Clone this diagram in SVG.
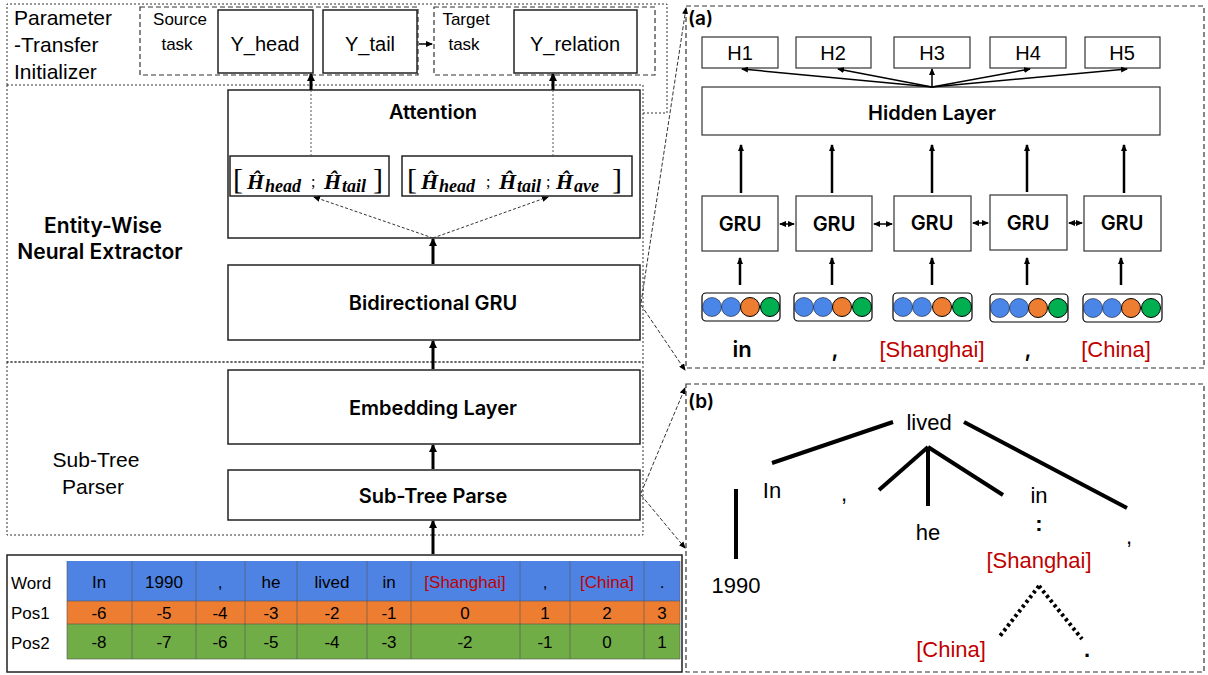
<svg xmlns="http://www.w3.org/2000/svg" width="1208" height="675" viewBox="0 0 1208 675">
<defs>
<marker id="thick" markerWidth="8" markerHeight="8" refX="7" refY="4" orient="auto" markerUnits="userSpaceOnUse"><path d="M0,0 L8,4 L0,8 Z" fill="#000"/></marker>
<marker id="small" markerWidth="7" markerHeight="6" refX="6" refY="3" orient="auto" markerUnits="userSpaceOnUse"><path d="M0,0 L7,3 L0,6 Z" fill="#000"/></marker>
<marker id="smallS" markerWidth="7" markerHeight="6" refX="1" refY="3" orient="auto" markerUnits="userSpaceOnUse"><path d="M7,0 L0,3 L7,6 Z" fill="#000"/></marker>
</defs>
<style>
text{font-family:"Liberation Sans","DejaVu Sans",sans-serif;fill:#000}
.box{fill:#fff;stroke:#222;stroke-width:1.5}
.rbox{fill:#fff;stroke:#333;stroke-width:1.2}
.region{fill:none;stroke:#333;stroke-width:1;stroke-dasharray:2 2}
.dash{fill:none;stroke:#333;stroke-width:1.2;stroke-dasharray:5 3}
.lbl{font-size:20px;text-anchor:middle}
.sb{font-family:Inter,"Liberation Sans",sans-serif;font-weight:600}
.side{font-size:21px}
.m{font-family:"Liberation Serif","DejaVu Serif",serif;font-style:italic;font-weight:bold}
.tw{font-size:17px;text-anchor:middle}
.red{fill:#c00000}
.arr{stroke:#000;stroke-width:3;marker-end:url(#thick)}
.thin{stroke:#000;stroke-width:1.5;marker-end:url(#small)}
.up{stroke:#000;stroke-width:2.5;marker-end:url(#small)}
.tree{stroke:#000;stroke-width:4;fill:none}
.blue{fill:#4a86e8}.orange{fill:#ed7d31}.green{fill:#00b050}
.t{font-size:22px;text-anchor:middle}
</style>

<!-- regions -->
<g id="regions">
<path class="region" d="M7,85 L7,4 L667,4 L667,113 L643,113"/>
<rect class="region" x="7" y="85" width="636" height="277"/>
<rect class="region" x="7" y="362" width="636" height="173"/>
<rect class="dash" x="140" y="7" width="278" height="68"/>
<rect class="dash" x="434" y="7" width="221" height="68"/>
<rect class="dash" x="686" y="6" width="518" height="362"/>
<rect class="dash" x="686" y="384" width="518" height="288"/>
</g>

<g id="side-labels">
<text class="side" x="14" y="25">Parameter</text>
<text class="side" x="14" y="52">-Transfer</text>
<text class="side" x="14" y="79">Initializer</text>
<text class="side sb" x="103" y="233" text-anchor="middle" font-size="19">Entity-Wise</text>
<text class="side sb" x="100" y="259" text-anchor="middle" font-size="19">Neural Extractor</text>
<text class="side" x="96" y="467" text-anchor="middle">Sub-Tree</text>
<text class="side" x="93" y="494" text-anchor="middle">Parser</text>
<text x="180" y="25" font-size="17" text-anchor="middle">Source</text>
<text x="177" y="50" font-size="17" text-anchor="middle">task</text>
<text x="466" y="25" font-size="17" text-anchor="middle">Target</text>
<text x="464" y="50" font-size="17" text-anchor="middle">task</text>
</g>

<g id="y-head"><rect class="box" x="218" y="10" width="95" height="63"/><text class="lbl" x="265" y="51" font-size="21">Y_head</text></g>
<g id="y-tail"><rect class="box" x="323" y="10" width="94" height="63"/><text class="lbl" x="370" y="51" font-size="21">Y_tail</text></g>
<g id="y-relation"><rect class="box" x="514" y="10" width="123" height="63"/><text class="lbl" x="575" y="51" font-size="21">Y_relation</text></g>

<g id="attention">
<rect class="box" x="228" y="90" width="412" height="148"/>
<text class="lbl sb" x="433" y="119">Attention</text>
</g>
<g id="h-left">
<rect class="box" x="230" y="156" width="159" height="40"/>
<text y="189"><tspan x="233" font-family="Liberation Serif,serif" font-size="30">[</tspan><tspan class="m" x="247" font-size="22">Ĥ</tspan><tspan class="m" x="265" y="192" font-size="18">head</tspan><tspan x="311" y="187" font-size="16" font-family="Liberation Serif,serif">;</tspan><tspan class="m" x="324" y="189" font-size="22">Ĥ</tspan><tspan class="m" x="342" y="192" font-size="18">tail</tspan><tspan x="373" y="189" font-family="Liberation Serif,serif" font-size="30">]</tspan></text>
</g>
<g id="h-right">
<rect class="box" x="402" y="156" width="230" height="40"/>
<text y="189"><tspan x="407" font-family="Liberation Serif,serif" font-size="30">[</tspan><tspan class="m" x="421" font-size="22">Ĥ</tspan><tspan class="m" x="439" y="192" font-size="18">head</tspan><tspan x="486" y="187" font-size="16" font-family="Liberation Serif,serif">;</tspan><tspan class="m" x="499" y="189" font-size="22">Ĥ</tspan><tspan class="m" x="517" y="192" font-size="18">tail</tspan><tspan x="546" y="187" font-size="16" font-family="Liberation Serif,serif">;</tspan><tspan class="m" x="556" y="189" font-size="22">Ĥ</tspan><tspan class="m" x="574" y="192" font-size="18">ave</tspan><tspan x="612" y="189" font-family="Liberation Serif,serif" font-size="30">]</tspan></text>
</g>

<g id="bigru"><rect class="box" x="228" y="265" width="412" height="75"/><text class="lbl sb" x="433" y="310">Bidirectional GRU</text></g>
<g id="embedding"><rect class="box" x="228" y="370" width="412" height="74"/><text class="lbl sb" x="433" y="415">Embedding Layer</text></g>
<g id="subtree-parse"><rect class="box" x="228" y="470" width="412" height="50"/><text class="lbl sb" x="433" y="503">Sub-Tree Parse</text></g>

<g id="table">
<rect x="7" y="555" width="675" height="117" fill="#fff" stroke="#222" stroke-width="1.5"/>
<rect x="67" y="561" width="613" height="40" fill="#4f83e3"/>
<rect x="67" y="601" width="613" height="23" fill="#ed7d31"/>
<rect x="67" y="624" width="613" height="35" fill="#70ad47"/>
<g stroke="#555" stroke-width="1" stroke-opacity="0.6">
<line x1="67" y1="561" x2="67" y2="659"/><line x1="132" y1="561" x2="132" y2="659"/><line x1="196" y1="561" x2="196" y2="659"/><line x1="245" y1="561" x2="245" y2="659"/><line x1="297" y1="561" x2="297" y2="659"/><line x1="367" y1="561" x2="367" y2="659"/><line x1="411" y1="561" x2="411" y2="659"/><line x1="520" y1="561" x2="520" y2="659"/><line x1="570" y1="561" x2="570" y2="659"/><line x1="644" y1="561" x2="644" y2="659"/><line x1="680" y1="561" x2="680" y2="659"/>
<line x1="67" y1="601" x2="680" y2="601"/><line x1="67" y1="624" x2="680" y2="624"/><line x1="67" y1="659" x2="680" y2="659"/>
</g>
<text x="11" y="589" font-size="17">Word</text>
<text x="11" y="619" font-size="17">Pos1</text>
<text x="11" y="649" font-size="17">Pos2</text>
<g class="tw">
<text x="99" y="588">In</text><text x="164" y="588">1990</text><text x="220" y="588">,</text><text x="271" y="588">he</text><text x="332" y="588">lived</text><text x="389" y="588">in</text><text x="465" y="588" class="red">[Shanghai]</text><text x="545" y="588">,</text><text x="607" y="588" class="red">[China]</text><text x="662" y="588">.</text>
<text x="99" y="619">-6</text><text x="164" y="619">-5</text><text x="220" y="619">-4</text><text x="271" y="619">-3</text><text x="332" y="619">-2</text><text x="389" y="619">-1</text><text x="465" y="619">0</text><text x="545" y="619">1</text><text x="607" y="619">2</text><text x="662" y="619">3</text>
<text x="99" y="648">-8</text><text x="164" y="648">-7</text><text x="220" y="648">-6</text><text x="271" y="648">-5</text><text x="332" y="648">-4</text><text x="389" y="648">-3</text><text x="465" y="648">-2</text><text x="545" y="648">-1</text><text x="607" y="648">0</text><text x="662" y="648">1</text>
</g>
</g>

<!-- panel (a) -->
<g id="panel-a">
<text x="688" y="25" font-size="19" class="sb">(a)</text>
<g id="h1"><rect class="rbox" x="702" y="37" width="76" height="31"/><text class="lbl" x="740" y="60" font-size="21">H1</text></g>
<g id="h2"><rect class="rbox" x="796" y="37" width="75" height="31"/><text class="lbl" x="833" y="60" font-size="21">H2</text></g>
<g id="h3"><rect class="rbox" x="894" y="37" width="76" height="31"/><text class="lbl" x="932" y="60" font-size="21">H3</text></g>
<g id="h4"><rect class="rbox" x="990" y="37" width="76" height="31"/><text class="lbl" x="1028" y="60" font-size="21">H4</text></g>
<g id="h5"><rect class="rbox" x="1085" y="37" width="75" height="31"/><text class="lbl" x="1122" y="60" font-size="21">H5</text></g>
<g id="hidden"><rect class="rbox" x="702" y="87" width="458" height="48"/><text class="lbl sb" x="932" y="120">Hidden Layer</text></g>
<g id="gru1"><rect class="rbox" x="702" y="196" width="76" height="55"/><text class="lbl sb" x="740" y="231">GRU</text></g>
<g id="gru2"><rect class="rbox" x="796" y="196" width="76" height="55"/><text class="lbl sb" x="834" y="231">GRU</text></g>
<g id="gru3"><rect class="rbox" x="894" y="196" width="77" height="55"/><text class="lbl sb" x="932" y="230">GRU</text></g>
<g id="gru4"><rect class="rbox" x="990" y="195" width="77" height="55"/><text class="lbl sb" x="1028" y="230">GRU</text></g>
<g id="gru5"><rect class="rbox" x="1084" y="196" width="77" height="55"/><text class="lbl sb" x="1122" y="230">GRU</text></g>
<g id="emb1"><rect x="702" y="293" width="78" height="28" rx="4" fill="#fff" stroke="#000" stroke-width="1.2"/><circle class="blue" cx="712" cy="307" r="9.5" stroke="#000" stroke-width="0.5"/><circle class="blue" cx="731" cy="307" r="9.5" stroke="#000" stroke-width="0.5"/><circle class="orange" cx="750" cy="307" r="9.5" stroke="#000" stroke-width="1"/><circle class="green" cx="770" cy="307" r="9.5" stroke="#000" stroke-width="1"/></g>
<g id="emb2"><rect x="794" y="293" width="78" height="28" rx="4" fill="#fff" stroke="#000" stroke-width="1.2"/><circle class="blue" cx="804" cy="307" r="9.5" stroke="#000" stroke-width="0.5"/><circle class="blue" cx="823" cy="307" r="9.5" stroke="#000" stroke-width="0.5"/><circle class="orange" cx="842" cy="307" r="9.5" stroke="#000" stroke-width="1"/><circle class="green" cx="862" cy="307" r="9.5" stroke="#000" stroke-width="1"/></g>
<g id="emb3"><rect x="893" y="293" width="79" height="28" rx="4" fill="#fff" stroke="#000" stroke-width="1.2"/><circle class="blue" cx="903" cy="307" r="9.5" stroke="#000" stroke-width="0.5"/><circle class="blue" cx="922" cy="307" r="9.5" stroke="#000" stroke-width="0.5"/><circle class="orange" cx="942" cy="307" r="9.5" stroke="#000" stroke-width="1"/><circle class="green" cx="962" cy="307" r="9.5" stroke="#000" stroke-width="1"/></g>
<g id="emb4"><rect x="990" y="294" width="78" height="28" rx="4" fill="#fff" stroke="#000" stroke-width="1.2"/><circle class="blue" cx="1000" cy="308" r="9.5" stroke="#000" stroke-width="0.5"/><circle class="blue" cx="1019" cy="308" r="9.5" stroke="#000" stroke-width="0.5"/><circle class="orange" cx="1038" cy="308" r="9.5" stroke="#000" stroke-width="1"/><circle class="green" cx="1058" cy="308" r="9.5" stroke="#000" stroke-width="1"/></g>
<g id="emb5"><rect x="1083" y="294" width="79" height="28" rx="4" fill="#fff" stroke="#000" stroke-width="1.2"/><circle class="blue" cx="1093" cy="308" r="9.5" stroke="#000" stroke-width="0.5"/><circle class="blue" cx="1112" cy="308" r="9.5" stroke="#000" stroke-width="0.5"/><circle class="orange" cx="1131" cy="308" r="9.5" stroke="#000" stroke-width="1"/><circle class="green" cx="1151" cy="308" r="9.5" stroke="#000" stroke-width="1"/></g>
<text class="t sb" x="742" y="357">in</text>
<text class="t sb" x="835" y="357">,</text>
<text class="t red" x="932" y="357">[Shanghai]</text>
<text class="t sb" x="1028" y="357">,</text>
<text class="t red" x="1116" y="357">[China]</text>
</g>

<!-- panel (b) -->
<g id="panel-b">
<text x="688" y="408" font-size="19" class="sb">(b)</text>
<text class="t" x="929" y="430">lived</text>
<text class="t" x="772" y="498">In</text>
<text class="t" x="844" y="501">,</text>
<text class="t" x="736" y="593">1990</text>
<text class="t" x="928" y="540">he</text>
<text class="t" x="1039" y="503">in</text>
<text class="t" x="1039" y="531" font-weight="bold">:</text>
<text class="t" x="1129" y="544">,</text>
<text class="t red" x="1039" y="568">[Shanghai]</text>
<text class="t red" x="951" y="657">[China]</text>
<text class="t" x="1087" y="657" font-weight="bold">.</text>
<g class="tree">
<line x1="893" y1="422" x2="772" y2="463"/>
<line x1="964" y1="422" x2="1127" y2="508"/>
<line x1="928" y1="447" x2="879" y2="490"/>
<line x1="928" y1="447" x2="928" y2="506"/>
<line x1="928" y1="447" x2="1003" y2="495"/>
<line x1="736" y1="489" x2="736" y2="559"/>
</g>
<g stroke="#000" stroke-width="4" stroke-dasharray="3 3" fill="none">
<line x1="1039" y1="586" x2="1000" y2="636"/>
<line x1="1039" y1="586" x2="1082" y2="639"/>
</g>
</g>

<!-- connectors -->
<g id="connectors" fill="none">
<line class="thin" x1="419" y1="44" x2="432" y2="44"/>
<line x1="311" y1="156" x2="311" y2="86" stroke="#555" stroke-width="1" stroke-dasharray="2 2"/>
<line x1="553" y1="156" x2="553" y2="86" stroke="#555" stroke-width="1" stroke-dasharray="2 2"/>
<line class="arr" x1="311" y1="90" x2="311" y2="74"/>
<line class="arr" x1="553" y1="90" x2="553" y2="74"/>
<line x1="433" y1="238" x2="314" y2="197" stroke="#333" stroke-width="1" stroke-dasharray="3 2" marker-end="url(#small)"/>
<line x1="433" y1="238" x2="548" y2="197" stroke="#333" stroke-width="1" stroke-dasharray="3 2" marker-end="url(#small)"/>
<line class="arr" x1="433" y1="264" x2="433" y2="239"/>
<line class="arr" x1="433" y1="369" x2="433" y2="341"/>
<line class="arr" x1="433" y1="469" x2="433" y2="445"/>
<line class="arr" x1="433" y1="554" x2="433" y2="521"/>
<line x1="641" y1="303" x2="686" y2="8" stroke="#333" stroke-width="1" stroke-dasharray="4 2" marker-end="url(#small)"/>
<line x1="641" y1="305" x2="685" y2="370" stroke="#333" stroke-width="1" stroke-dasharray="4 2" marker-end="url(#small)"/>
<line x1="641" y1="493" x2="685" y2="388" stroke="#333" stroke-width="1" stroke-dasharray="4 2" marker-end="url(#small)"/>
<line x1="641" y1="495" x2="685" y2="548" stroke="#333" stroke-width="1" stroke-dasharray="4 2" marker-end="url(#small)"/>
<line class="thin" x1="932" y1="87" x2="742" y2="69"/>
<line class="thin" x1="932" y1="87" x2="838" y2="69"/>
<line class="thin" x1="932" y1="87" x2="932" y2="69"/>
<line class="thin" x1="932" y1="87" x2="1030" y2="69"/>
<line class="thin" x1="932" y1="87" x2="1127" y2="69"/>
<line class="up" x1="741" y1="193" x2="741" y2="145"/>
<line class="up" x1="832" y1="193" x2="832" y2="145"/>
<line class="up" x1="932" y1="193" x2="932" y2="145"/>
<line class="up" x1="1027" y1="192" x2="1027" y2="145"/>
<line class="up" x1="1124" y1="193" x2="1124" y2="145"/>
<line class="up" x1="740" y1="285" x2="740" y2="258"/>
<line class="up" x1="832" y1="285" x2="832" y2="258"/>
<line class="up" x1="932" y1="285" x2="932" y2="258"/>
<line class="up" x1="1027" y1="285" x2="1027" y2="258"/>
<line class="up" x1="1121" y1="285" x2="1121" y2="258"/>
<g stroke="#000" stroke-width="1.5" marker-start="url(#smallS)" marker-end="url(#small)">
<line x1="780" y1="224" x2="794" y2="224"/>
<line x1="874" y1="224" x2="892" y2="224"/>
<line x1="973" y1="223" x2="988" y2="223"/>
<line x1="1069" y1="223" x2="1082" y2="223"/>
</g>
</g>
</svg>
